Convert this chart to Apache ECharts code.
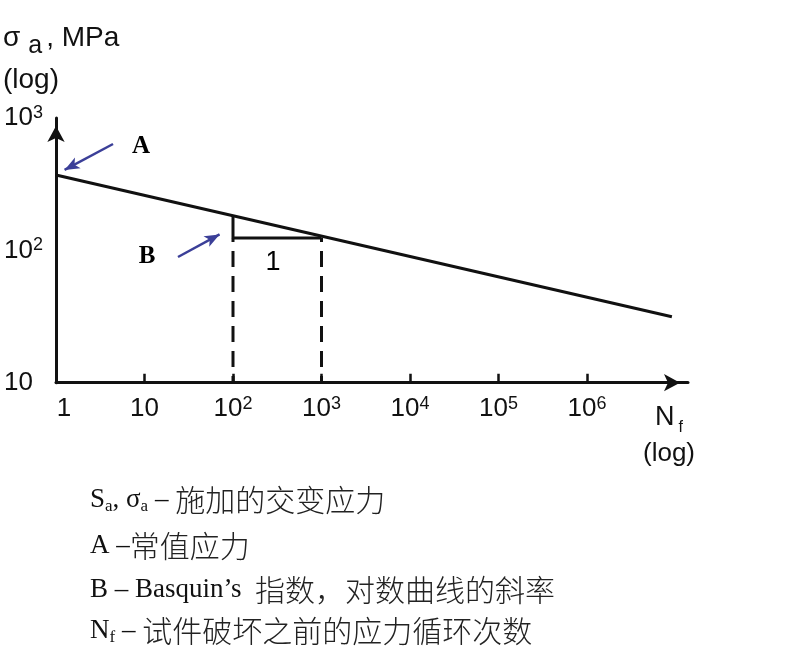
<!DOCTYPE html>
<html>
<head>
<meta charset="utf-8">
<script src="https://cdn.jsdelivr.net/npm/echarts@6/dist/echarts.min.js"></script>
<style>
html,body{margin:0;padding:0;background:#fff;}
#main{width:811px;height:667px;}
</style>
</head>
<body>
<div id="main"></div>
<script>
// ---- data ----
const xTickValues = [1, 10, 100, 1000, 10000, 100000, 1000000];
const xTickLabels = ['{one|1}', '10', '10{sup|2}', '10{sup|3}', '10{sup|4}', '10{sup|5}', '10{sup|6}'];
const yTickValues = [10, 100, 1000];
const yTickLabels = ['10', '10{sup|2}', '10{sup|3}'];
const xRange = [1, 1.384e7];
const yRange = [10, 1000];

// S-N (Basquin) line
const curveN = [1, 9.1e6];
const curveS = [371, 31.5];
// slope triangle
const triangleN = [100, 100, 1000];
const triangleS = [183, 124, 124];
// dashed drop lines
const dropN = [100, 1000];
const dropTopS = 124;
const dropBottomS = 10;

// annotation arrows  [tailN, tailS, headN, headS]
const arrowA = [4.41, 636, 1.25, 405];
const arrowB = [23.9, 89.1, 70.5, 132];
// annotation labels
const noteNames = ['A', 'B', '1'];
const noteN = [9.13, 10.7, 283];
const noteS = [604, 89.1, 80.2];

const legendLines = [
  '{t|S}{ts|a}{t|, σ}{ts|a}{t| – }{zh|施加的交变应力}',
  '{t|A –}{zh|常值应力}',
  '{t|B – Basquin’s  }{zh|指数，对数曲线的斜率}',
  '{t|N}{ts|f}{t| – }{zh|试件破坏之前的应力循环次数}'
];

// ---- chart ----
const SANS = "'Liberation Sans', Arial, sans-serif";
const SERIF = "'Liberation Serif', 'Times New Roman', serif";
const CJK = "'Noto Sans CJK SC', sans-serif";
const INK = '#111111';

const chart = echarts.init(document.getElementById('main'));

const supRich = {
  sup: { fontSize: 18, fontFamily: SANS, color: INK, verticalAlign: 'top', lineHeight: 18 },
  one: { fontSize: 26, fontFamily: SANS, color: INK, padding: [0, 0, 0, 16] }
};

function lbl(values, labels) {
  return function (v) {
    const j = Math.round(Math.log10(v));
    const k = values.findIndex(x => Math.round(Math.log10(x)) === j);
    return k >= 0 ? labels[k] : '';
  };
}

const legendGraphics = legendLines.map((txt, i) => ({
  type: 'text',
  left: 90,
  top: [485, 531, 575, 616][i],
  silent: true,
  style: {
    text: txt,
    fill: INK,
    rich: {
      t: { fontFamily: SERIF, fontSize: 27, lineHeight: 30, fill: INK, color: INK },
      ts: { fontFamily: SERIF, fontSize: 17, lineHeight: 12, verticalAlign: 'bottom', fill: INK, color: INK },
      zh: { fontFamily: CJK, fontSize: 30, lineHeight: 30, fontWeight: 300, fill: '#222', color: '#222' }
    }
  }
}));

const option = {
  animation: false,
  backgroundColor: '#fff',
  title: {
    text: '{n|σ}{s|a}{n|, MPa}\n{n|(log)}',
    left: 3,
    top: 17,
    padding: 0,
    textStyle: {
      fontWeight: 'normal',
      rich: {
        n: { fontFamily: SANS, fontSize: 28, fontWeight: 'normal', lineHeight: 42, color: INK },
        s: { fontFamily: SANS, fontSize: 25, fontWeight: 'normal', lineHeight: 26, verticalAlign: 'bottom', color: INK, padding: [0, 4, 0, 8] }
      }
    }
  },
  grid: { left: 56, right: 123, top: 118, bottom: 284.3, containLabel: false },
  xAxis: {
    type: 'log',
    logBase: 10,
    min: xRange[0],
    max: xRange[1],
    name: 'N{s|f}\n{n|(log)}',
    nameLocation: 'end',
    nameGap: -19,
    nameTextStyle: {
      align: 'center',
      verticalAlign: 'top',
      padding: [17, 0, 0, 0],
      fontFamily: SANS,
      fontSize: 27,
      lineHeight: 36,
      color: INK,
      rich: {
        n: { fontFamily: SANS, fontSize: 26, lineHeight: 36, color: INK },
        s: { fontFamily: SANS, fontSize: 16, lineHeight: 14, verticalAlign: 'bottom', color: INK, padding: [0, 0, 0, 4] }
      }
    },
    axisLine: {
      show: true,
      symbol: ['none', 'arrow'],
      symbolSize: [13, 16],
      symbolOffset: [0, -8],
      lineStyle: { color: INK, width: 3 }
    },
    axisTick: {
      show: true,
      inside: true,
      length: 9,
      customValues: xTickValues.slice(1),
      lineStyle: { color: INK, width: 2.5 }
    },
    axisLabel: {
      show: true,
      customValues: xTickValues,
      margin: 12,
      fontFamily: SANS,
      fontSize: 26,
      color: INK,
      lineHeight: 28,
      formatter: lbl(xTickValues, xTickLabels),
      rich: supRich
    },
    splitLine: { show: false },
    minorTick: { show: false }
  },
  yAxis: {
    type: 'log',
    logBase: 10,
    min: yRange[0],
    max: yRange[1],
    axisLine: {
      show: true,
      symbol: ['none', 'arrow'],
      symbolSize: [13, 16],
      symbolOffset: [0, -8],
      lineStyle: { color: INK, width: 3 }
    },
    axisTick: { show: false },
    axisLabel: {
      show: true,
      customValues: yTickValues,
      margin: 52,
      align: 'left',
      fontFamily: SANS,
      fontSize: 26,
      color: INK,
      lineHeight: 28,
      formatter: lbl(yTickValues, yTickLabels),
      rich: supRich
    },
    splitLine: { show: false }
  },
  series: [
    {
      type: 'line',
      name: 'S-N',
      data: curveN.map((n, i) => [n, curveS[i]]),
      symbol: 'none',
      lineStyle: { color: INK, width: 3 },
      silent: true
    },
    {
      type: 'line',
      name: 'triangle',
      data: triangleN.map((n, i) => [n, triangleS[i]]),
      symbol: 'none',
      lineStyle: { color: INK, width: 3 },
      silent: true
    },
    ...dropN.map(n => ({
      type: 'line',
      name: 'drop',
      data: [[n, dropTopS], [n, dropBottomS]],
      symbol: 'none',
      lineStyle: { color: INK, width: 3, type: [16, 9], dashOffset: 12 },
      silent: true
    })),
    {
      type: 'line',
      name: 'arrows',
      data: [],
      silent: true,
      markLine: {
        silent: true,
        symbol: ['none', 'arrow'],
        symbolSize: [9, 15],
        label: { show: false },
        lineStyle: { color: '#3b3f98', width: 2.5, type: 'solid' },
        data: [
          [{ coord: [arrowA[0], arrowA[1]] }, { coord: [arrowA[2], arrowA[3]] }],
          [{ coord: [arrowB[0], arrowB[1]] }, { coord: [arrowB[2], arrowB[3]] }]
        ]
      }
    },
    {
      type: 'scatter',
      name: 'notes',
      silent: true,
      symbolSize: 1,
      itemStyle: { color: 'rgba(0,0,0,0)' },
      data: noteNames.map((nm, i) => ({
        name: nm,
        value: [noteN[i], noteS[i]],
        label: nm === '1'
          ? { fontFamily: SANS, fontSize: 27, fontWeight: 'normal' }
          : { fontFamily: SERIF, fontSize: 25, fontWeight: 'bold' }
      })),
      label: {
        show: true,
        position: 'inside',
        formatter: '{b}',
        color: '#000',
        opacity: 1,
        textBorderWidth: 0,
        textBorderColor: 'transparent'
      }
    }
  ],
  graphic: legendGraphics
};

chart.setOption(option);
</script>
</body>
</html>
